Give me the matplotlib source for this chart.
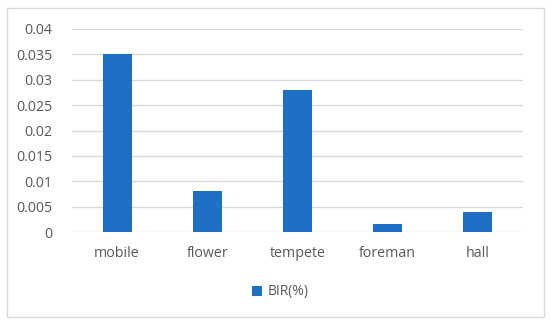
import matplotlib.pyplot as plt
from matplotlib.patches import Rectangle

categories = ['mobile', 'flower', 'tempete', 'foreman', 'hall']
bir = [0.035, 0.008, 0.028, 0.0015, 0.004]
yticks = [0, 0.005, 0.01, 0.015, 0.02, 0.025, 0.03, 0.035, 0.04]
ytick_labels = ['0', '0.005', '0.01', '0.015', '0.02', '0.025', '0.03', '0.035', '0.04']

plt.rcParams['font.family'] = ['Open Sans', 'DejaVu Sans']
grey = '#595959'
blue = '#1f6fc6'

fig = plt.figure(figsize=(5.5, 3.25), dpi=100)
fig.patches.append(Rectangle((7 / 550, 8 / 325), 537 / 550, 309 / 325,
                             transform=fig.transFigure, fill=False,
                             edgecolor='#d9d9d9', linewidth=1))
ax = fig.add_axes([72 / 550, 1 - 232 / 325, 451 / 550, 203 / 325])

x = range(len(categories))
ax.bar(x, bir, width=0.32, color=blue, label='BIR(%)', zorder=3)

ax.set_xlim(-0.5, len(categories) - 0.5)
ax.set_ylim(0, 0.04)
ax.set_yticks(yticks)
ax.set_yticklabels(ytick_labels)
ax.set_xticks(list(x))
ax.set_xticklabels(categories)
ax.grid(axis='y', color='#d9d9d9', linewidth=1, zorder=0)
for s in ax.spines.values():
    s.set_visible(False)
ax.tick_params(length=0, colors=grey, labelsize=10.3)
ax.tick_params(axis='x', pad=10)
ax.tick_params(axis='y', pad=14)

fig.legend(loc='center', bbox_to_anchor=(280 / 550, 1 - 292 / 325),
           frameon=False, fontsize=10, labelcolor=grey,
           handlelength=0.7, handleheight=0.7, handletextpad=0.4)

fig.savefig('out.png', dpi=100)
